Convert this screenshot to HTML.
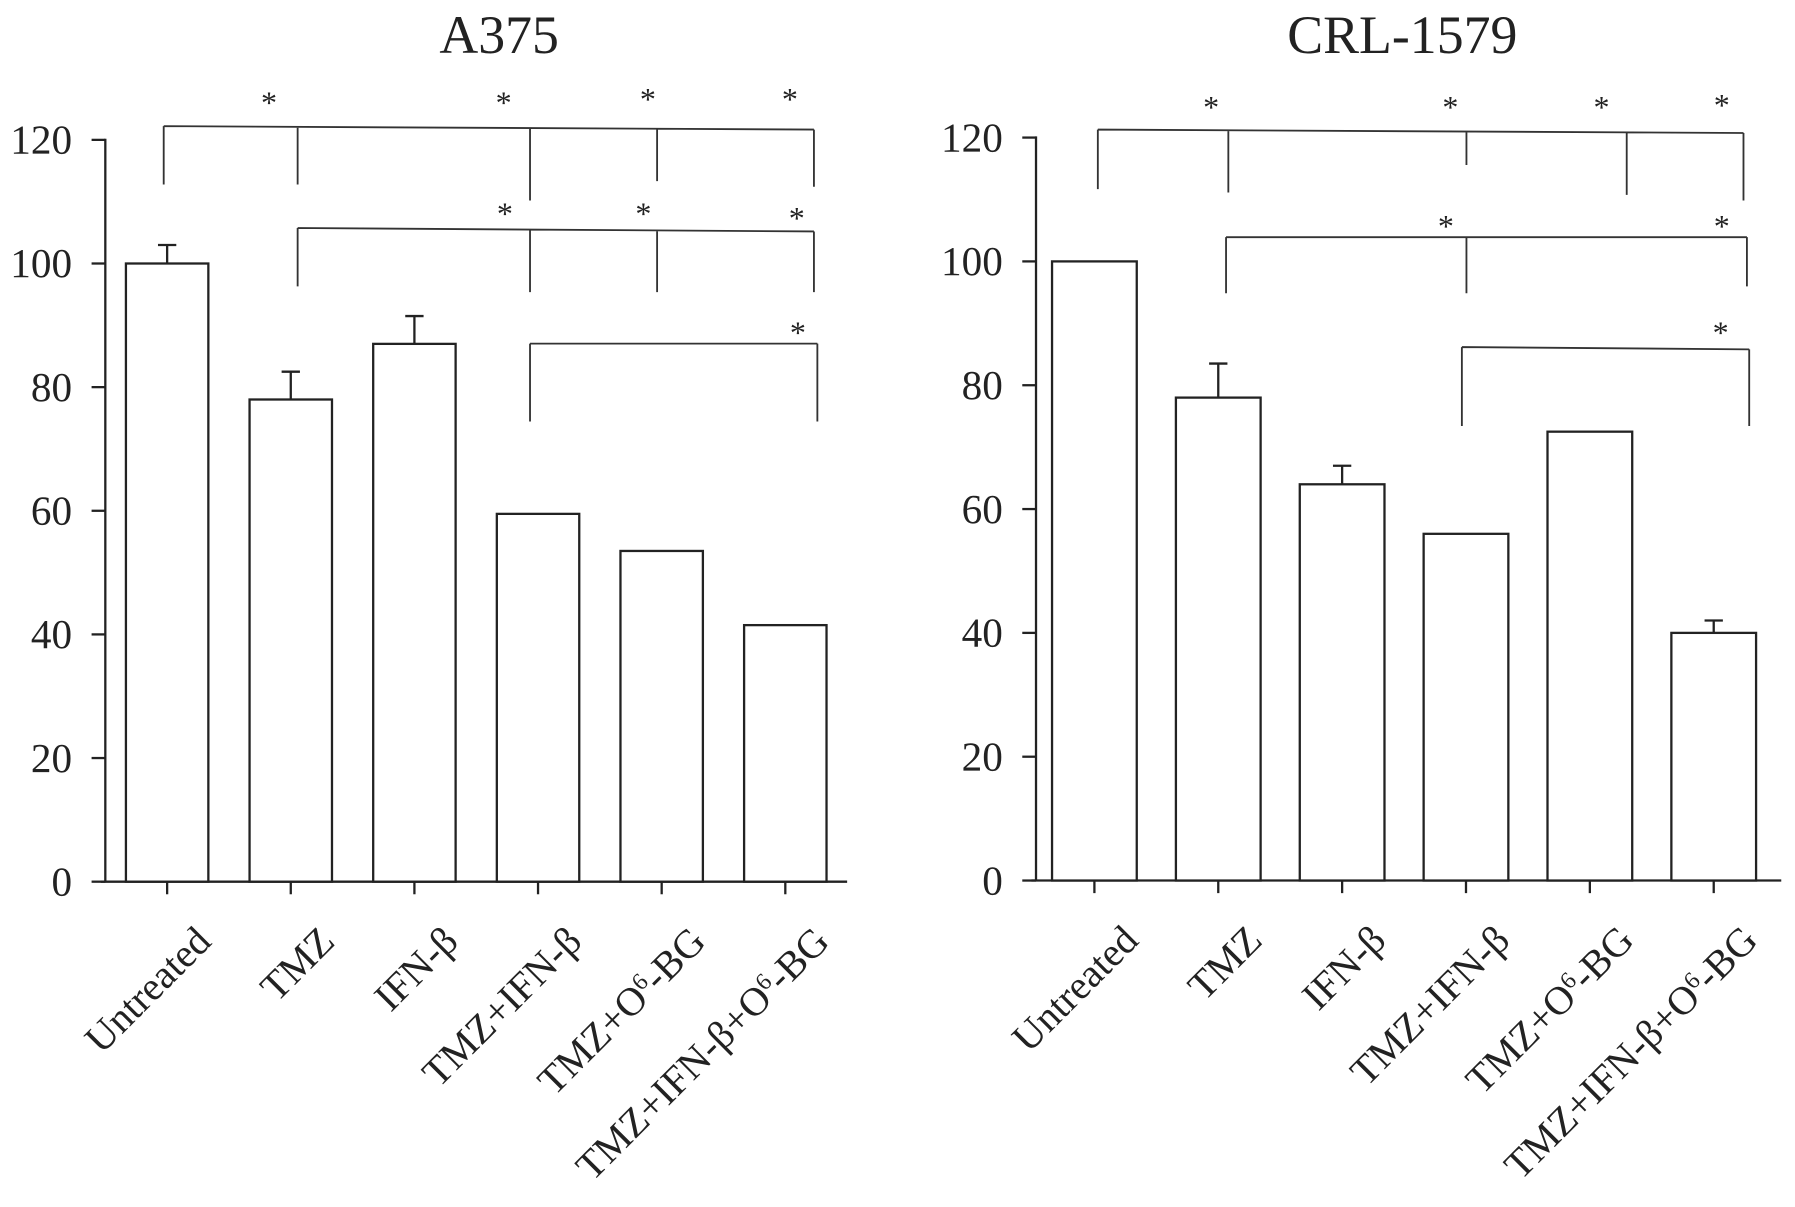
<!DOCTYPE html>
<html><head><meta charset="utf-8"><style>
html,body{margin:0;padding:0;background:#fff;}
svg{display:block;}
text{font-family:"Liberation Serif",serif;fill:#222;}
</style></head><body>
<svg id="fig" width="1795" height="1207" viewBox="0 0 1568 1054" xmlns="http://www.w3.org/2000/svg"></svg>
<script>
const categories = ["Untreated","TMZ","IFN-β","TMZ+IFN-β","TMZ+O6-BG","TMZ+IFN-β+O6-BG"];
const a375Values = [100, 78, 87, 59.5, 53.5, 41.5];
const a375Errors = [103, 82.5, 91.5, null, null, null];
const crlValues = [100, 78, 64, 56, 72.5, 40];
const crlErrors = [null, 83.5, 67, null, null, 42];
const yTicks = [0, 20, 40, 60, 80, 100, 120];

const NS = "http://www.w3.org/2000/svg";
const svg = document.getElementById("fig");
function mk(tag, attrs, parent) {
  const e = document.createElementNS(NS, tag);
  for (const k in attrs) e.setAttribute(k, attrs[k]);
  (parent || svg).appendChild(e);
  return e;
}
const S = {stroke:"#222","stroke-width":2,fill:"none"};

const panels = [
  {title:"A375", tx:436, axisX:92, xEnd:740, y0:770, y120:122, firstTick:146, step:108, barW:72,
   values:a375Values, errors:a375Errors,
   brackets:[
     {y1:110,y2:113,x:[143,260,463,574,711],drop:[161,161,175,158,163],stars:[[235,85],[440,85],[566,82],[690,82]]},
     {y1:199,y2:202,x:[260,463,574,711],drop:[250,255,255,255],stars:[[441,182],[562,182],[696,186]]},
     {y1:300,y2:300,x:[463,714],drop:[368,368],stars:[[697,286]]}
   ]},
  {title:"CRL-1579", tx:1225, axisX:905, xEnd:1556, y0:769, y120:120, firstTick:956, step:108.2, barW:74,
   values:crlValues, errors:crlErrors,
   brackets:[
     {y1:113,y2:116,x:[959,1073,1281,1421,1523],drop:[165,168,144,170,175],stars:[[1058,89],[1267,89],[1399,89],[1504,87]]},
     {y1:207,y2:207,x:[1071,1281,1526],drop:[256,256,250],stars:[[1263,193],[1504,193]]},
     {y1:303,y2:305,x:[1277,1528],drop:[372,372],stars:[[1503,286]]}
   ]}
];

panels.forEach((p, pi) => {
  const g = mk("g", {});
  
  
  const yScale = v => p.y0 - (v/120)*(p.y0 - p.y120);
  const xScale = i => p.firstTick + i*p.step;
  const t = mk("text", {x:p.tx, y:46, "text-anchor":"middle", "font-size":47}, g);
  t.textContent = p.title;
  
  
  const ya = mk("line", Object.assign({x1:p.axisX, x2:p.axisX, y1:yScale(120)-1, y2:p.y0}, S), g);
  
  
  yTicks.forEach(v => {
    mk("line", Object.assign({x1:p.axisX-12, x2:p.axisX, y1:yScale(v), y2:yScale(v)}, S), g);
    const lt = mk("text", {x:p.axisX-29, y:yScale(v)+12, "text-anchor":"end", "font-size":36}, g);
    lt.textContent = v;
    
    
  });
  const xa = mk("line", Object.assign({x1:p.axisX-4, x2:p.xEnd, y1:p.y0, y2:p.y0}, S), g);
  
  
  p.values.forEach((v, i) => {
    const cx = xScale(i);
    const r = mk("rect", {x:cx - p.barW/2, y:yScale(v), width:p.barW, height:p.y0 - yScale(v), fill:"#fff", stroke:"#222", "stroke-width":2}, g);
    
    
    const e = p.errors[i];
    if (e !== null) {
      const eb = mk("path", Object.assign({d:`M${cx} ${yScale(v)} V${yScale(e)} M${cx-8} ${yScale(e)} H${cx+8}`}, S), g);
      
      
    }
    mk("line", Object.assign({x1:cx, x2:cx, y1:p.y0, y2:p.y0+11}, S), g);
    const lab = mk("text", {transform:`translate(${cx+40},${p.y0+54}) rotate(-45)`, "text-anchor":"end", "font-size":35}, g);
    
    
    const name = categories[i];
    if (name.indexOf("O6") >= 0) {
      const parts = name.split("O6");
      lab.appendChild(document.createTextNode(parts[0] + "O"));
      const sup = mk("tspan", {"baseline-shift":"super", "font-size":21}, lab);
      sup.textContent = "6";
      lab.appendChild(document.createTextNode(parts[1]));
    } else lab.textContent = name;
  });
  p.brackets.forEach((b, bi) => {
    const x0 = b.x[0], xn = b.x[b.x.length-1];
    const yAt = x => b.y1 + (b.y2-b.y1)*(x-x0)/(xn-x0);
    let d = `M${x0} ${yAt(x0)} L${xn} ${yAt(xn)}`;
    b.x.forEach((x, k) => { d += ` M${x} ${yAt(x)} V${b.drop[k]}`; });
    const br = mk("path", {d:d, stroke:"#333", "stroke-width":1.6, fill:"none"}, g);
    
    
    b.stars.forEach(s => {
      const st = mk("text", {x:s[0], y:s[1]+14, "text-anchor":"middle", "font-size":28}, g);
      st.textContent = "*";
      
      
    });
  });
});
</script>
</body></html>
